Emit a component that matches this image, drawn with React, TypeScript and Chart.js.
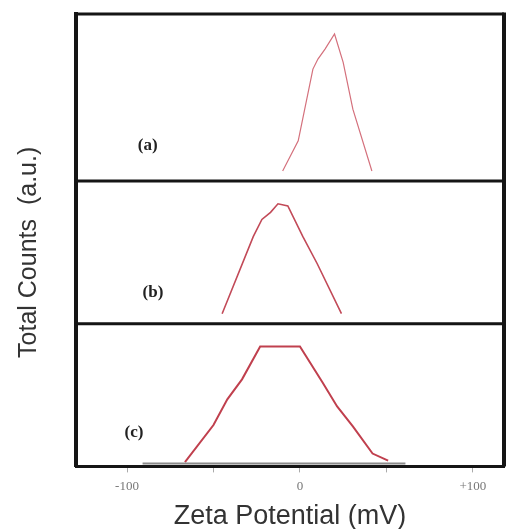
import React, { useEffect, useRef } from "react";
import { Chart, registerables } from "chart.js";

Chart.register(...registerables);

// Zeta potential (mV) and total counts (a.u., 0-100 within each panel)
const zetaA = [-10, -1, 7.5, 10.4, 14.5, 20, 25, 30.6, 41.6];
const countsA = [6, 24, 67, 73, 79, 88, 71, 43, 6];

const zetaB = [-45, -27, -22, -17, -12.7, -7, 1.7, 10, 24];
const countsB = [7, 61, 73, 78, 84, 82.5, 61, 42, 7];

const zetaC = [-66.5, -50, -42, -33.5, -23, 0, 13, 21.5, 30.6, 42, 51];
const countsC = [3, 29, 47, 61, 84, 84, 59, 42, 28, 9, 4];

const baselineZeta = [-91, 61];
const baselineCounts = [2, 2];

const xTicks = [-100, -50, 0, 50, 100];
const xTickLabels = ["-100", "", "0", "", "+100"];

const panelNames = ["(a)", "(b)", "(c)"];
const panelLabelZeta = [-88, -85, -96];
const panelLabelCounts = [21, 22, 24];

const toPts = (xs: number[], ys: number[]) => xs.map((x, i) => ({ x, y: ys[i] }));

export default function App() {
  const ref = useRef<HTMLCanvasElement | null>(null);

  useEffect(() => {
    if (!ref.current) return;

    const framePlugin = {
      id: "frame",
      afterDatasetsDraw(chart: any) {
        const { ctx, chartArea, scales } = chart;
        ctx.save();
        ctx.strokeStyle = "#151515";
        ctx.lineWidth = 3;
        ctx.beginPath();
        ctx.moveTo(chartArea.left, chartArea.top);
        ctx.lineTo(chartArea.right, chartArea.top);
        ctx.moveTo(chartArea.left, scales.yb.top);
        ctx.lineTo(chartArea.right, scales.yb.top);
        ctx.moveTo(chartArea.left, scales.yc.top);
        ctx.lineTo(chartArea.right, scales.yc.top);
        ctx.stroke();
        ctx.lineWidth = 4;
        ctx.beginPath();
        ctx.moveTo(chartArea.right, chartArea.top - 1.5);
        ctx.lineTo(chartArea.right, chartArea.bottom);
        ctx.stroke();
        // panel labels
        ctx.fillStyle = "#222";
        ctx.font = "bold 17px 'Liberation Serif', serif";
        ctx.textAlign = "center";
        ctx.textBaseline = "middle";
        const ids = ["ya", "yb", "yc"];
        panelNames.forEach((name, i) => {
          const x = scales.x.getPixelForValue(panelLabelZeta[i]);
          const y = scales[ids[i]].getPixelForValue(panelLabelCounts[i]);
          ctx.fillText(name, x, y);
        });
        ctx.restore();
      },
    };

    const yCommon = (weight: number) => ({
      type: "linear" as const,
      position: "left" as const,
      stack: "panels",
      stackWeight: weight,
      min: 0,
      max: 100,
      ticks: { display: false },
      grid: { display: false, drawTicks: false },
      border: { display: true, color: "#151515", width: 4 },
    });

    const chart = new Chart(ref.current, {
      type: "line",
      data: {
        datasets: [
          {
            label: "(a)",
            data: toPts(zetaA, countsA),
            yAxisID: "ya",
            borderColor: "#d4707c",
            borderWidth: 1.2,
            pointRadius: 0,
            tension: 0,
          },
          {
            label: "(b)",
            data: toPts(zetaB, countsB),
            yAxisID: "yb",
            borderColor: "#c24a58",
            borderWidth: 1.6,
            pointRadius: 0,
            tension: 0,
          },
          {
            label: "baseline",
            data: toPts(baselineZeta, baselineCounts),
            yAxisID: "yc",
            borderColor: "#8a8a8a",
            borderWidth: 2,
            pointRadius: 0,
          },
          {
            label: "(c)",
            data: toPts(zetaC, countsC),
            yAxisID: "yc",
            borderColor: "#c0404e",
            borderWidth: 2,
            pointRadius: 0,
            tension: 0,
          },
        ],
      },
      options: {
        responsive: false,
        animation: false,
        layout: { padding: { left: 8, right: 4, top: 14, bottom: 0 } },
        plugins: {
          legend: { display: false },
          tooltip: { enabled: false },
        },
        scales: {
          x: {
            type: "linear",
            min: -129.5,
            max: 118,
            afterBuildTicks: (scale: any) => {
              scale.ticks = xTicks.map((v) => ({ value: v }));
            },
            ticks: {
              autoSkip: false,
              maxRotation: 0,
              padding: 6,
              color: "#777",
              font: { family: "'Liberation Serif', serif", size: 13 },
              callback: (v: any) => {
                const i = xTicks.indexOf(Number(v));
                return i >= 0 ? xTickLabels[i] : "";
              },
            },
            grid: {
              display: true,
              drawOnChartArea: false,
              drawTicks: true,
              tickLength: 6,
              color: "#aaa",
            },
            border: { display: true, color: "#151515", width: 3 },
            title: {
              display: true,
              text: "Zeta Potential (mV)",
              color: "#333",
              font: { family: "'Liberation Sans', Arial, sans-serif", size: 27, lineHeight: 1 },
              padding: { top: 3, bottom: -1 },
            },
          },
          yc: { ...yCommon(1) },
          yb: {
            ...yCommon(1),
            title: {
              display: true,
              text: "Total Counts  (a.u.)",
              color: "#333",
              font: { family: "'Liberation Sans', Arial, sans-serif", size: 25, lineHeight: 1.2 },
              padding: { top: 6, bottom: 32 },
            },
          },
          ya: { ...yCommon(1.17) },
        },
      },
      plugins: [framePlugin],
    } as any);

    return () => chart.destroy();
  }, []);

  return (
    <div style={{ position: "fixed", left: 0, top: 0, width: 508, height: 529, background: "#fff" }}>
      <canvas ref={ref} width={508} height={529} />
    </div>
  );
}
